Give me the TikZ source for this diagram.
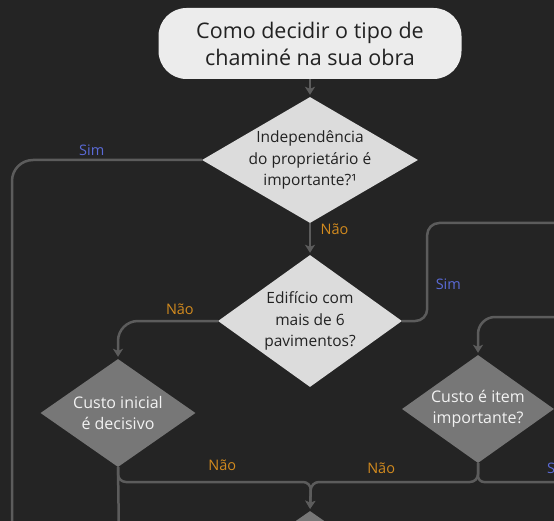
\documentclass[tikz,border=0pt]{standalone}
\usepackage{fontspec}
\setmainfont{Open Sans}
\usetikzlibrary{shapes.geometric, arrows.meta}

\definecolor{fundo}{HTML}{242424}
\definecolor{claro}{HTML}{ECECEC}
\definecolor{cinzaclaro}{HTML}{DCDCDC}
\definecolor{cinza}{HTML}{777777}
\definecolor{linha}{HTML}{5C5C5C}
\definecolor{azulsim}{HTML}{5A6AD6}
\definecolor{laranja}{HTML}{D28A1E}
\definecolor{escuro}{HTML}{222222}

\begin{document}
\begin{tikzpicture}[x=1pt, y=-1pt, node distance=161pt]

    % Fond
    \useasboundingbox (0,0) rectangle (554,521);
    \fill[fundo] (0,0) rectangle (554,521);
    \clip (0,0) rectangle (554,521);

    % Styles des noeuds
    \tikzstyle{heading} = [rectangle, rounded corners=28pt, minimum width=303pt, minimum height=71pt, align=center, fill=claro, text=escuro, font=\fontsize{21.5}{27}\selectfont]
    \tikzstyle{decision} = [diamond, aspect=1.6, inner sep=-10pt, align=center, fill=cinzaclaro, text=escuro, font=\fontsize{15.5}{21.5}\selectfont]
    \tikzstyle{decisiondark} = [diamond, aspect=1.4, inner sep=-10pt, minimum width=155pt, minimum height=108pt, align=center, fill=cinza, text=white!95!black, font=\fontsize{16}{21}\selectfont]
    \tikzstyle{link} = [line width=2.5pt, draw=linha, rounded corners=20pt]
    \tikzstyle{arrow} = [link, -{Stealth[length=8pt, width=10pt, inset=2pt]}, shorten >=2pt]
    \tikzstyle{yeslabel} = [text=azulsim, font=\fontsize{14.5}{16}\selectfont]
    \tikzstyle{nolabel} = [text=laranja, font=\fontsize{14.5}{16}\selectfont]

    % Noeuds
    \node (titulo) [heading] at (310,43.5) {Como decidir o tipo de\\chaminé na sua obra};
    \node (independencia) [decision, aspect=1.7, minimum width=216pt, minimum height=126pt, below of=titulo, yshift=44.5pt] {Independência\\do proprietário é\\importante?¹};
    \node (edificio) [decision, aspect=1.4, minimum width=184pt, minimum height=132pt, below of=independencia] {Edifício com\\mais de 6\\pavimentos?};
    \node (custoinicial) [decisiondark, below of=edificio, xshift=-192pt, yshift=69pt] {Custo inicial\\é decisivo};
    \node (custoitem) [decisiondark, minimum width=152pt, below of=edificio, xshift=168pt, yshift=73pt] {Custo é item\\importante?};
    \node (proxima) [decisiondark, below of=edificio, yshift=-83pt] {};

    % Extrémités hors cadre
    \coordinate (fimesquerda) at (12,540);
    \coordinate (saidadireita) at (580,223);
    \coordinate (entradadireita) at (580,317);
    \coordinate (fimcusto) at (119,540);
    \coordinate (juncao) at (311,482);
    \coordinate (saidabaixo) at (600,482);

    % Flèches
    \draw [arrow] (titulo.south) -- (independencia.north);
    \draw [link, rounded corners=21pt] (independencia.west) -| node[yeslabel, pos=0.29, above] {Sim} (fimesquerda);
    \draw [arrow] (independencia.south) -- node[nolabel, pos=0.2, right=6pt] {Não} (edificio.north);
    \draw [arrow] (edificio.west) -| node[nolabel, pos=0.19, above=2pt] {Não} (custoinicial.north);
    \draw [link, rounded corners=12pt] (edificio.east) -- ++(25,0) |- node[yeslabel, pos=0.19, right=4pt] {Sim} (saidadireita);
    \draw [arrow, rounded corners=17pt] (entradadireita) -| (custoitem.north);
    \draw [link] (custoinicial.south) -- (fimcusto);
    \draw [arrow, rounded corners=8pt] (custoinicial.south) |- node[nolabel, pos=0.77, above=7pt] {Não} (juncao) -- (proxima.north);
    \draw [arrow, rounded corners=8pt] (custoitem.south) |- node[nolabel, pos=0.79, above=4pt] {Não} (juncao) -- (proxima.north);
    \draw [link, rounded corners=6pt] (custoitem.south) |- node[yeslabel, pos=0.765, anchor=south west, yshift=4pt] {Sim} (saidabaixo);

\end{tikzpicture}
\end{document}
